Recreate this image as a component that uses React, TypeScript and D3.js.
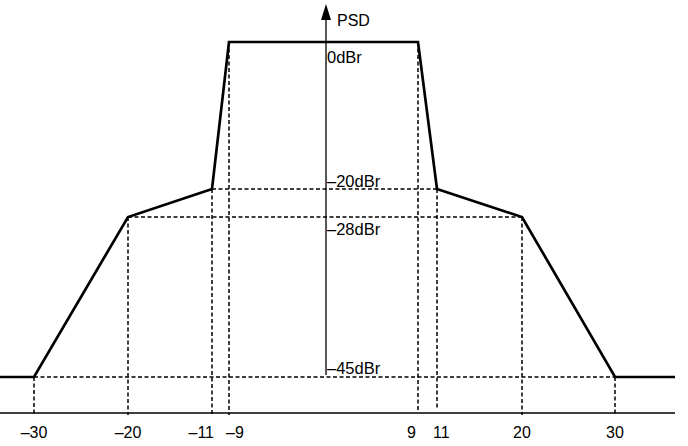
import React from "react";
import * as d3 from "d3";

// Frequency offsets (MHz) at mask corners and tick labels
const freqTicks = [-30, -20, -11, -9, 9, 11, 20, 30];
// Mask levels (dBr)
const levels = [0, -20, -28, -45];
const levelLabels = ["0dBr", "–20dBr", "–28dBr", "–45dBr"];
// Mask shape: frequency, level
const maskFreq = [-30, -20, -11, -9, 9, 11, 20, 30];
const maskLevel = [-45, -28, -20, 0, 0, -20, -28, -45];

const W = 688;
const H = 446;

export default function App() {
  // schematic (piecewise) scales as in the reference drawing
  const x = d3.scaleLinear().domain(freqTicks).range([34, 128, 212, 229, 418, 437, 522, 615]);
  const y = d3.scaleLinear().domain(levels).range([42, 189, 217, 377]);
  const axisY = 413;
  const x0 = 326;
  const xLeft = 0;
  const xRight = 675;

  const pts: [number, number][] = [[xLeft, y(-45)]];
  maskFreq.forEach((f, i) => pts.push([x(f), y(maskLevel[i])]));
  pts.push([xRight, y(-45)]);
  const line = d3.line();

  const hGuides = [
    { l: -20, a: -11, b: 11 },
    { l: -28, a: -20, b: 20 },
  ];

  const font = "Liberation Sans, Arial, sans-serif";
  const tickOffset: Record<number, { dx: number; anchor: string }> = {
    [-11]: { dx: 2, anchor: "end" },
    [-9]: { dx: -3, anchor: "start" },
    [9]: { dx: -2, anchor: "end" },
    [11]: { dx: -4, anchor: "start" },
  };
  const levelDy: Record<number, number> = { 0: 21, [-20]: -2, [-28]: 18, [-45]: -3 };

  return (
    <svg width={W} height={H} style={{ position: "absolute", left: 0, top: 0, background: "#fff" }}>
      {/* x axis */}
      <line x1={xLeft} x2={xRight} y1={axisY} y2={axisY} stroke="#000" strokeWidth={1.4} />
      {/* y axis */}
      <line x1={x0} x2={x0} y1={14} y2={375} stroke="#000" strokeWidth={1.3} />
      <path d={`M${x0},4 L${x0 - 5},20 L${x0 + 5},20 Z`} fill="#000" />
      <text x={337} y={26} fontFamily={font} fontSize={16}>PSD</text>

      {/* dashed guides */}
      <g stroke="#000" strokeWidth={1.5} strokeDasharray="4,2.5" fill="none">
        <line x1={x(-30)} x2={xRight} y1={y(-45)} y2={y(-45)} />
        {hGuides.map((g) => (
          <line key={g.l} x1={x(g.a)} x2={x(g.b)} y1={y(g.l)} y2={y(g.l)} />
        ))}
        {maskFreq.map((f, i) => (
          <line key={f} x1={x(f)} x2={x(f)} y1={y(maskLevel[i])} y2={f === 9 || f === 11 ? axisY - 3 : axisY + 2} />
        ))}
      </g>

      {/* mask */}
      <path d={line(pts) || ""} fill="none" stroke="#000" strokeWidth={2.7} strokeLinejoin="miter" />

      {/* level labels */}
      {levels.map((l, i) => (
        <text key={l} x={x0 + 1} y={y(l) + levelDy[l]} fontFamily={font} fontSize={16.5}>
          {levelLabels[i]}
        </text>
      ))}

      {/* frequency tick labels */}
      {freqTicks.map((f) => {
        const o = tickOffset[f] || { dx: 0, anchor: "middle" };
        return (
          <text key={f} x={x(f) + o.dx} y={438} textAnchor={o.anchor as any} fontFamily={font} fontSize={16}>
            {f < 0 ? `–${-f}` : `${f}`}
          </text>
        );
      })}
    </svg>
  );
}
